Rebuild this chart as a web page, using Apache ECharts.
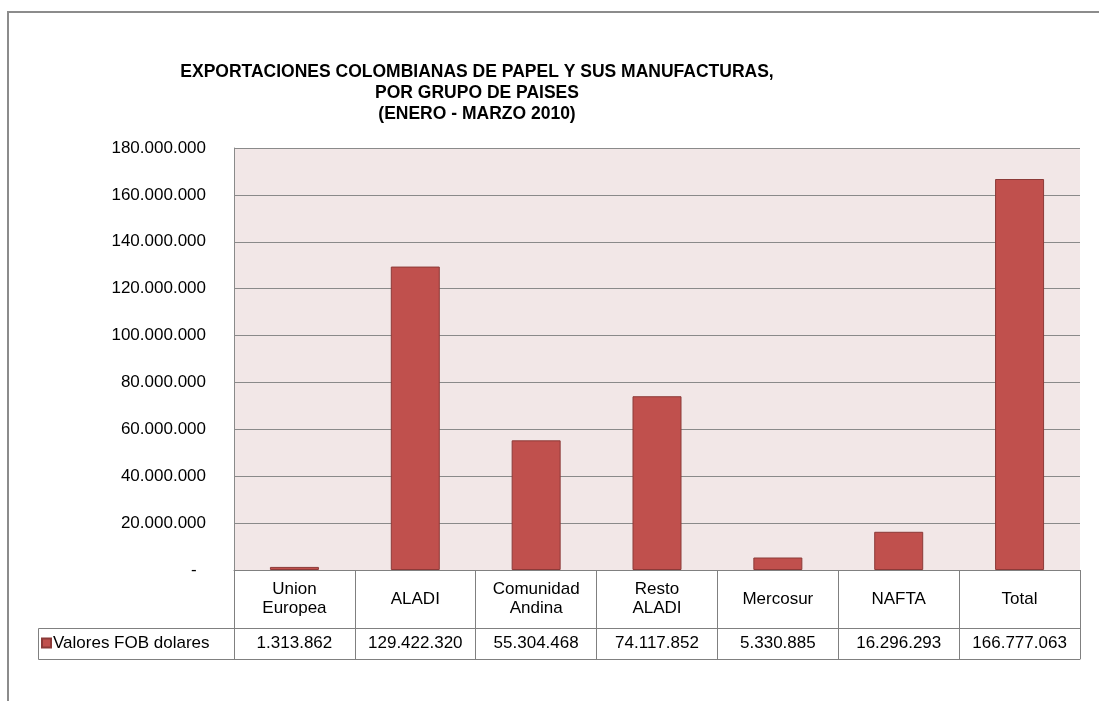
<!DOCTYPE html>
<html><head><meta charset="utf-8">
<script src="https://cdn.jsdelivr.net/npm/echarts@6/dist/echarts.min.js"></script>
<style>html,body{margin:0;padding:0;background:#fff}#c{width:1099px;height:701px}</style>
</head><body><div id="c"></div>
<script>
const titleLines = ['EXPORTACIONES COLOMBIANAS DE PAPEL Y SUS MANUFACTURAS,', 'POR GRUPO DE PAISES', '(ENERO - MARZO 2010)'];
const categories = ['Union\nEuropea', 'ALADI', 'Comunidad\nAndina', 'Resto\nALADI', 'Mercosur', 'NAFTA', 'Total'];
const seriesName = 'Valores FOB dolares';
const values = [1313862, 129422320, 55304468, 74117852, 5330885, 16296293, 166777063];
const yMin = 0, yMax = 180000000, yInterval = 20000000;

const FONT = "'Liberation Sans', Arial, sans-serif";
const LINE = '#808080';
const FS = 17;
function fmt(v) { return String(v).replace(/\B(?=(\d{3})+(?!\d))/g, '.'); }

const chart = echarts.init(document.getElementById('c'));
chart.setOption({
  animation: false,
  backgroundColor: '#fff',
  textStyle: { fontFamily: FONT },
  grid: { left: 234, right: 19, top: 148, bottom: 131, show: true, backgroundColor: '#F2E7E7', borderWidth: 0 },
  legend: {
    data: [seriesName], left: 41, top: 633, padding: 0, itemWidth: 9, itemHeight: 9, itemGap: 0,
    icon: 'rect', textStyle: { fontSize: FS, lineHeight: 20, color: '#000', fontFamily: FONT, padding: [0, 0, 0, -3] }
  },
  xAxis: [
    {
      type: 'category', data: categories, position: 'bottom',
      axisLine: { show: true, lineStyle: { color: LINE, width: 1 } },
      axisTick: { show: true, length: 89, interval: 0, lineStyle: { color: LINE, width: 1 } },
      axisLabel: { interval: 0, margin: 29, verticalAlign: 'middle', fontSize: FS, lineHeight: 19, color: '#000', fontFamily: FONT },
      splitLine: { show: false }
    },
    {
      type: 'category', data: values.map(fmt), position: 'bottom', offset: 58,
      axisLine: { show: true, lineStyle: { color: LINE, width: 1 } },
      axisTick: { show: false },
      axisLabel: { interval: 0, margin: 15, verticalAlign: 'middle', fontSize: FS, color: '#000', fontFamily: FONT },
      splitLine: { show: false }
    },
    {
      type: 'category', data: categories, position: 'bottom', offset: 89,
      axisLine: { show: true, lineStyle: { color: LINE, width: 1 } },
      axisTick: { show: false }, axisLabel: { show: false }, splitLine: { show: false }
    }
  ],
  yAxis: {
    type: 'value', min: yMin, max: yMax, interval: yInterval,
    axisLine: { show: true, lineStyle: { color: '#8a8a8a', width: 1 } },
    axisTick: { show: false },
    splitLine: { show: true, lineStyle: { color: '#8a8a8a', width: 1 } },
    axisLabel: {
      margin: 28, fontSize: FS, color: '#000', fontFamily: FONT,
      formatter: function (v) { return v === 0 ? '-  ' : fmt(v); }
    }
  },
  series: [{
    name: seriesName, type: 'bar', xAxisIndex: 0, data: values, barWidth: 49,
    itemStyle: { color: '#C0504D', borderColor: '#8C3A38', borderWidth: 1 }
  }],
  graphic: [
    { type: 'rect', silent: true, shape: { x: 8, y: 12, width: 1300, height: 900 },
      style: { fill: null, stroke: '#8c8c8c', lineWidth: 2 } },
    { type: 'polyline', silent: true, shape: { points: [[234, 628.5], [38.5, 628.5], [38.5, 659.5], [234, 659.5]] },
      style: { fill: null, stroke: LINE, lineWidth: 1 } },
    { type: 'text', silent: true, x: 477, y: 62,
      style: { text: titleLines.join('\n'), align: 'center', verticalAlign: 'top', fontSize: 17.5, fontWeight: 'bold',
               lineHeight: 21, fontFamily: FONT, fill: '#000' } }
  ]
});
</script></body></html>
